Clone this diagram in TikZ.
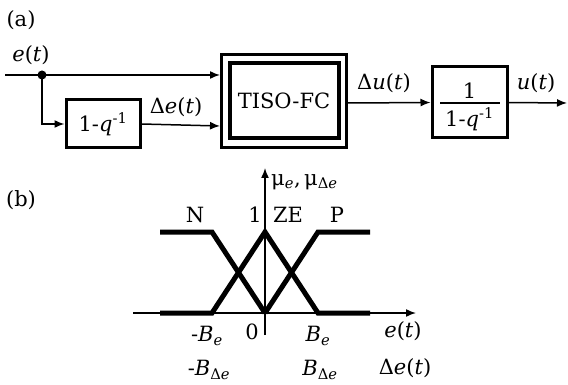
\documentclass[tikz,border=0pt]{standalone}
\usepackage{fontspec}
\setmainfont{DejaVu Serif}
\usetikzlibrary{arrows.meta}
\tikzset{
  lbl/.style={inner sep=0pt, font=\fontsize{21}{23}\selectfont},
  sig/.style={line width=1.5pt, -{Latex[length=10pt,width=8pt]}},
  wire/.style={line width=1.5pt},
  blockbox/.style={draw, line width=3pt, inner sep=0pt},
  mf/.style={line width=5pt, line join=miter},
  axis/.style={line width=1.5pt, -{Latex[length=10pt,width=8pt]}}
}
\newcommand{\ei}{\textit{e}}
\begin{document}
\begin{tikzpicture}[x=1pt,y=-1pt]
\useasboundingbox (0,0) rectangle (568,385);
% ---------- (a) ----------
\node[lbl] (la) at (21,20) {(a)};
\node[lbl] (le) at (31,55) {\ei(\textit{t})};
\coordinate (in) at (5,75);
\coordinate (j) at (42,75);
\fill (j) circle (4.5pt);
% blocks
\node[blockbox, minimum width=74pt, minimum height=48pt] (d) at (103,124) {};
\node[lbl] at (d.center) {1-\textit{q}\textsuperscript{-1}};
\draw[line width=3pt] (221.5,54.5) rectangle (346.5,147.5);
\node[blockbox, line width=4pt, minimum width=109pt, minimum height=75pt] (fc) at (284,101) {};
\node[lbl] at (fc.center) {TISO-FC};
\coordinate (fcw1) at (220,75);
\coordinate (fcw2) at (220,126);
\coordinate (fce) at (348,103);
\node[blockbox, minimum width=75pt, minimum height=71pt] (ig) at (469.5,102.5) {};
\node[lbl] (num) at (469.5,91) {1};
\node[lbl] (den) at (469.5,119) {1-\textit{q}\textsuperscript{-1}};
\draw[wire] (440,103) -- (500,103);
\coordinate (out) at (567,103);
% connectors
\draw[sig] (in) -- (fcw1);
\draw[sig] (j) |- (d.west);
\draw[sig] (d.east) -- (fcw2);
\draw[sig] (fce) -- (ig.west);
\draw[sig] (ig.east) -- (out);
\node[lbl] (lde) at (176,107) {Δ\ei(\textit{t})};
\node[lbl] (ldu) at (384,83) {Δ\textit{u}(\textit{t})};
\node[lbl] (lu) at (536,83) {\textit{u}(\textit{t})};
% ---------- (b) ----------
\node[lbl] (lb) at (21,200) {(b)};
\coordinate (o) at (265,313);
\coordinate (vb) at (265,335);
\coordinate (vt) at (265,168);
\coordinate (hl) at (133,313);
\coordinate (hr) at (416,313);
\draw[mf] (160,232) -- (212,232) -- (265,313);
\draw[mf] (160,313) -- (212,313) -- (265,232) -- (318,313) -- (370,313);
\draw[mf] (265,313) -- (318,232) -- (370,232);
\draw[axis] (vb) -- (vt);
\draw[axis] (hl) -- (hr);
\node[lbl, anchor=west] (lmu) at (271,182) {μ\textsubscript{\textit{e}},\,μ\textsubscript{Δ\textit{e}}};
\node[lbl] (lN) at (195,215) {N};
\node[lbl] (l1) at (255,215) {1};
\node[lbl] (lZE) at (288,215) {ZE};
\node[lbl] (lP) at (337,215) {P};
\node[lbl] (l0) at (252,332) {0};
\node[lbl] (lmb1) at (207,336) {-\textit{B}\textsubscript{\textit{e}}};
\node[lbl] (lmb2) at (209,370) {-\textit{B}\textsubscript{Δ\textit{e}}};
\node[lbl] (lb1) at (318,336) {\textit{B}\textsubscript{\textit{e}}};
\node[lbl] (lb2) at (320,370) {\textit{B}\textsubscript{Δ\textit{e}}};
\node[lbl] (let) at (403,331) {\ei(\textit{t})};
\node[lbl] (ldet) at (405,368) {Δ\ei(\textit{t})};
\end{tikzpicture}
\end{document}
